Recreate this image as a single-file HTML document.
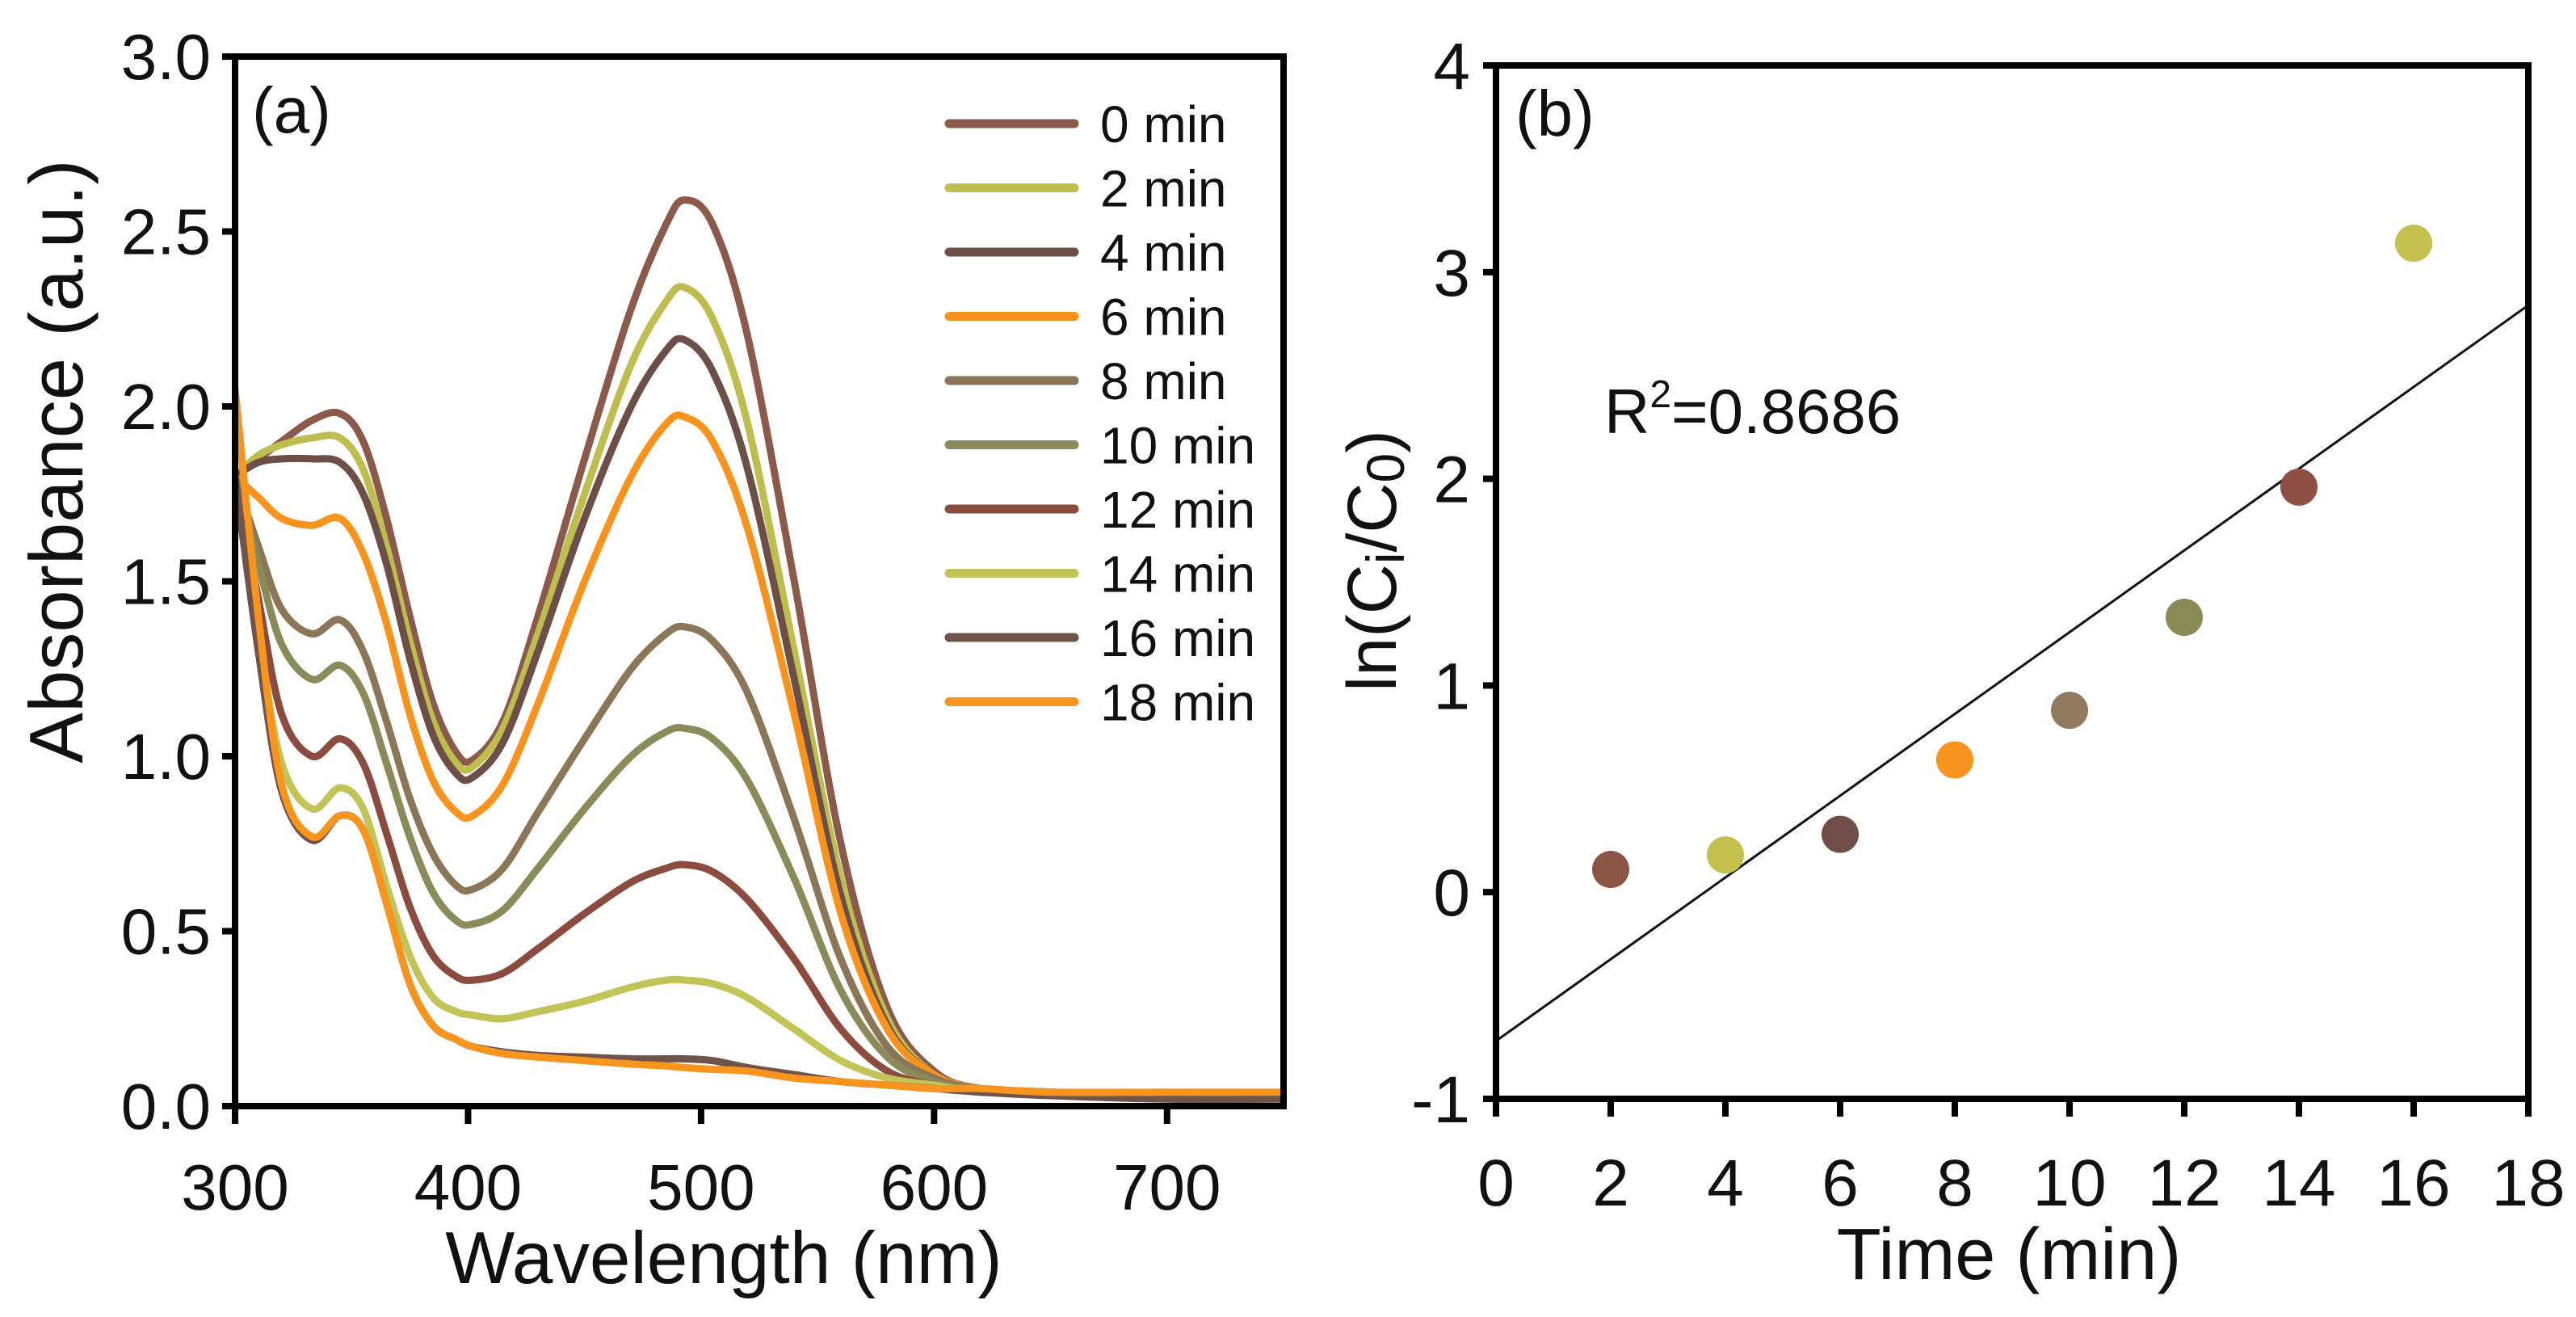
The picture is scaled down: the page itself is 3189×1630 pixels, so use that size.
<!DOCTYPE html>
<html><head><meta charset="utf-8">
<style>
html,body{margin:0;padding:0;background:#fff;}
svg{display:block;font-family:"Liberation Sans",Arial,sans-serif;}
</style></head>
<body>
<svg id="fig" width="3189" height="1630" viewBox="0 0 3189 1630" xmlns="http://www.w3.org/2000/svg">
<rect width="3189" height="1630" fill="#fff"/>
<g id="pa"></g>
<g id="pb"></g>
</svg>
<script>
// ---------- Panel (a) data ----------
const wavelengths = [300,310,320,333,345,355,365,375,385,395,402,415,430,450,470,485,493,505,520,540,560,580,600,620,650,700,750];
const seriesLabels = ["0 min","2 min","4 min","6 min","8 min","10 min","12 min","14 min","16 min","18 min"];
const seriesColors = ["#8B5A4A","#BDBD50","#6E4F47","#F7931E","#8C7658","#8A8A5A","#8B4C3F","#C3C457","#70534A","#F8951F"];
const abs0  = [1.80,1.85,1.90,1.96,1.98,1.90,1.68,1.40,1.15,1.01,0.99,1.10,1.40,1.85,2.28,2.52,2.59,2.52,2.20,1.50,0.75,0.28,0.10,0.05,0.04,0.03,0.03];
const abs2  = [1.80,1.86,1.89,1.91,1.91,1.82,1.60,1.33,1.10,0.98,0.97,1.08,1.35,1.75,2.12,2.30,2.34,2.25,1.95,1.30,0.65,0.25,0.09,0.05,0.04,0.03,0.03];
const abs4  = [1.80,1.84,1.85,1.85,1.84,1.75,1.55,1.28,1.06,0.95,0.94,1.04,1.30,1.68,2.00,2.16,2.19,2.10,1.82,1.22,0.60,0.23,0.09,0.05,0.04,0.03,0.03];
const abs6  = [1.80,1.74,1.68,1.66,1.68,1.58,1.38,1.12,0.93,0.84,0.83,0.92,1.15,1.50,1.80,1.95,1.97,1.90,1.65,1.12,0.55,0.22,0.09,0.05,0.04,0.03,0.03];
const abs8  = [1.80,1.60,1.42,1.35,1.39,1.30,1.10,0.88,0.72,0.63,0.62,0.68,0.84,1.05,1.25,1.35,1.37,1.33,1.18,0.82,0.42,0.17,0.08,0.05,0.04,0.03,0.03];
const abs10 = [1.80,1.55,1.32,1.22,1.26,1.18,0.98,0.77,0.61,0.53,0.52,0.56,0.68,0.85,1.00,1.07,1.08,1.05,0.93,0.65,0.33,0.14,0.07,0.05,0.04,0.03,0.03];
const abs12 = [1.80,1.45,1.12,1.00,1.05,0.98,0.78,0.57,0.43,0.37,0.36,0.38,0.45,0.55,0.64,0.68,0.69,0.67,0.59,0.42,0.22,0.10,0.06,0.04,0.04,0.03,0.03];
const abs14 = [1.80,1.35,0.98,0.85,0.91,0.85,0.63,0.43,0.31,0.27,0.26,0.25,0.27,0.30,0.34,0.36,0.36,0.35,0.31,0.22,0.13,0.08,0.06,0.04,0.04,0.03,0.03];
const abs16 = [1.80,1.30,0.90,0.76,0.83,0.79,0.58,0.35,0.23,0.19,0.17,0.155,0.145,0.14,0.135,0.135,0.135,0.13,0.11,0.09,0.07,0.06,0.05,0.04,0.03,0.02,0.02];
const abs18 = [2.05,1.40,0.92,0.77,0.83,0.79,0.58,0.35,0.23,0.19,0.17,0.15,0.14,0.13,0.12,0.115,0.11,0.105,0.10,0.08,0.07,0.06,0.05,0.05,0.04,0.04,0.04];
const absSeries = [abs0,abs2,abs4,abs6,abs8,abs10,abs12,abs14,abs16,abs18];
const aXTicks = [300,400,500,600,700];
const aYTicks = [0,0.5,1.0,1.5,2.0,2.5,3.0];

// ---------- Panel (b) data ----------
const times = [2,4,6,8,10,12,14,16];
const lnVals = [0.11,0.18,0.28,0.64,0.88,1.33,1.96,3.14];
const dotColors = ["#8B5546","#C4C04F","#6E4E46","#F7931E","#917A5E","#8A8A55","#8E4F45","#C4C04F"];
const fitLine = [[0,-0.72],[18,2.84]];
const bXTicks = [0,2,4,6,8,10,12,14,16,18];
const bYTicks = [-1,0,1,2,3,4];

const NS="http://www.w3.org/2000/svg";
function mk(tag, attrs, parent){const e=document.createElementNS(NS,tag);for(const k in attrs)e.setAttribute(k,attrs[k]);parent.appendChild(e);return e;}

// ---------- Panel (a) ----------
const pa=document.getElementById('pa');
const aL=291,aR=1589,aT=70,aB=1369;
const ax=v=>aL+(v-300)/(750-300)*(aR-aL);
const ay=v=>aB-(v/3)*(aB-aT);
function smooth(pts){
  let d="M"+pts[0][0].toFixed(1)+","+pts[0][1].toFixed(1);
  for(let i=0;i<pts.length-1;i++){
    const p0=pts[Math.max(0,i-1)],p1=pts[i],p2=pts[i+1],p3=pts[Math.min(pts.length-1,i+2)];
    const c1=[p1[0]+(p2[0]-p0[0])/6,p1[1]+(p2[1]-p0[1])/6];
    const c2=[p2[0]-(p3[0]-p1[0])/6,p2[1]-(p3[1]-p1[1])/6];
    d+=" C"+c1[0].toFixed(1)+","+c1[1].toFixed(1)+" "+c2[0].toFixed(1)+","+c2[1].toFixed(1)+" "+p2[0].toFixed(1)+","+p2[1].toFixed(1);
  }
  return d;
}
const clip=mk('clipPath',{id:'clipa'},pa);
mk('rect',{x:aL,y:aT,width:aR-aL,height:aB-aT},clip);
const curves=mk('g',{'clip-path':'url(#clipa)'},pa);


absSeries.forEach((s,i)=>{
  const pts=wavelengths.map((w,j)=>[ax(w),ay(s[j])]);
  const p=mk('path',{d:smooth(pts),fill:'none',stroke:seriesColors[i],'stroke-width':9,'stroke-linejoin':'round','stroke-linecap':'round'},curves);
  
  
});
const frameA=mk('rect',{x:aL,y:aT,width:aR-aL,height:aB-aT,fill:'none',stroke:'#000','stroke-width':8},pa);


aXTicks.forEach(t=>{
  const l=mk('line',{x1:ax(t),x2:ax(t),y1:aB,y2:aB+22,stroke:'#000','stroke-width':8},pa);
  
  
  const tx=mk('text',{x:ax(t),y:1497,'font-size':80,'text-anchor':'middle',fill:'#111'},pa);
  tx.textContent=t;
  
  
});
aYTicks.forEach(t=>{
  const l=mk('line',{x1:aL-16,x2:aL,y1:ay(t),y2:ay(t),stroke:'#000','stroke-width':8},pa);
  
  
  const tx=mk('text',{x:aL-30,y:ay(t)+28,'font-size':80,'text-anchor':'end',fill:'#111'},pa);
  tx.textContent=t.toFixed(1);
  
  
});
seriesLabels.forEach((lab,i)=>{
  const y=153+i*79.5;
  const l=mk('line',{x1:1175,x2:1330,y1:y,y2:y,stroke:seriesColors[i],'stroke-width':11,'stroke-linecap':'round'},pa);
  
  
  const tx=mk('text',{x:1362,y:y+23,'font-size':64,fill:'#111'},pa);
  tx.textContent=lab;
  
  
});
</script>
<script>
(function(){
const pa=document.getElementById('pa');
const t1=mk('text',{x:312,y:164,'font-size':80,fill:'#111'},pa);t1.textContent="(a)";


const t2=mk('text',{x:896,y:1588,'font-size':91,'text-anchor':'middle',fill:'#111'},pa);t2.textContent="Wavelength (nm)";


const t3=mk('text',{x:0,y:0,'font-size':94,'text-anchor':'middle',fill:'#111',transform:'translate(102,571) rotate(-90)'},pa);t3.textContent="Absorbance (a.u.)";


})();

// ---------- Panel (b) ----------
(function(){
const pb=document.getElementById('pb');
const bL=1852,bR=3130,bT=81,bB=1360;
const bx=v=>bL+v/18*(bR-bL);
const by=v=>bB-(v+1)/5*(bB-bT);
const clip=mk('clipPath',{id:'clipb'},pb);
mk('rect',{x:bL,y:bT,width:bR-bL,height:bB-bT},clip);
const fl=mk('line',{x1:bx(fitLine[0][0]),y1:by(fitLine[0][1]),x2:bx(fitLine[1][0]),y2:by(fitLine[1][1]),stroke:'#111','stroke-width':3,'clip-path':'url(#clipb)'},pb);


times.forEach((t,i)=>{
  const c=mk('circle',{cx:bx(t),cy:by(lnVals[i]),r:23,fill:dotColors[i]},pb);
  
  
});
const fr=mk('rect',{x:bL,y:bT,width:bR-bL,height:bB-bT,fill:'none',stroke:'#000','stroke-width':8},pb);


bXTicks.forEach(t=>{
  const l=mk('line',{x1:bx(t),x2:bx(t),y1:bB,y2:bB+22,stroke:'#000','stroke-width':8},pb);
  
  
  const tx=mk('text',{x:bx(t),y:1492,'font-size':82,'text-anchor':'middle',fill:'#111'},pb);
  tx.textContent=t;
  
  
});
bYTicks.forEach(t=>{
  const l=mk('line',{x1:bL-16,x2:bL,y1:by(t),y2:by(t),stroke:'#000','stroke-width':8},pb);
  
  
  const tx=mk('text',{x:bL-32,y:by(t)+29,'font-size':82,'text-anchor':'end',fill:'#111'},pb);
  tx.textContent=t;
  
  
});
const lb=mk('text',{x:1876,y:168,'font-size':80,fill:'#111'},pb);lb.textContent="(b)";


const r2=mk('text',{x:1986,y:536,'font-size':78,fill:'#111'},pb);
r2.innerHTML='R<tspan dy="-32" font-size="48">2</tspan><tspan dy="32">=0.8686</tspan>';


const xt=mk('text',{x:2487,y:1583,'font-size':90,'text-anchor':'middle',fill:'#111'},pb);xt.textContent="Time (min)";


const yt=mk('text',{x:0,y:0,'font-size':86,'text-anchor':'middle',fill:'#111',transform:'translate(1728,694) rotate(-90)'},pb);
yt.innerHTML='ln(C<tspan font-size="66" dy="10">i</tspan><tspan dy="-10">/C</tspan><tspan font-size="66" dy="10">0</tspan><tspan dy="-10">)</tspan>';


})();
</script>
</body></html>
